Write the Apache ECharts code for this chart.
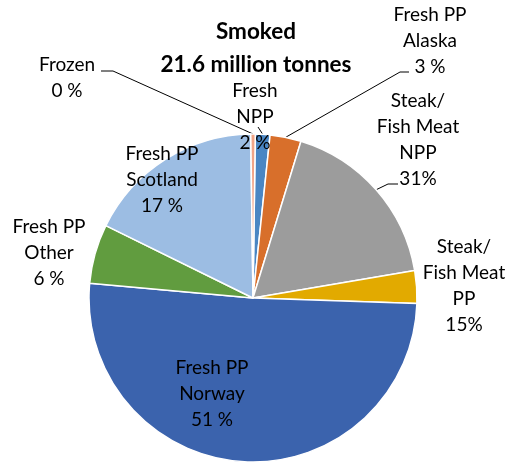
<!DOCTYPE html>
<html>
<head>
<meta charset="utf-8">
<script src="https://cdn.jsdelivr.net/npm/echarts@6/dist/echarts.min.js"></script>
<style>
  html, body { margin: 0; padding: 0; background: #fff; }
  #pie-smoked { width: 513px; height: 463px; }
</style>
</head>
<body>
<div id="pie-smoked"></div>
<script>
// 数据：按顺时针从12点方向开始
var categories = ['Fresh\nNPP', 'Fresh PP\nAlaska', 'Steak/\nFish Meat\nNPP', 'Steak/\nFish Meat\nPP',
	'Fresh PP\nNorway', 'Fresh PP\nOther', 'Fresh PP\nScotland', 'Frozen'];
var shares = [1.44, 3.06, 17.6, 3.2, 50.9, 5.83, 17.5, 0.44]; // 扇区大小（从图上量出）
var pctLabels = ['2 %', '3 %', '31%', '15%', '51 %', '6 %', '17 %', '0 %']; // 图上标注的百分比文字
var colors = ['#4a86c3', '#d86f2b', '#9c9c9c', '#e2aa00', '#3b63ad', '#619c3f', '#9cbde3', '#f1a587'];

// 标签位置（中心点）和引导线
var labelPos = [[255, 117], [430, 41], [418, 140], [464, 286], [212, 394], [49, 253], [162, 180], [67, 78]];
var leaderEnd = {
	0: [[258, 127]],
	1: [[400, 72], [409, 72]],
	2: [[388, 184], [398, 184]],
	7: [[113, 71], [101, 71]]
};

var pieChart = echarts.init(document.getElementById('pie-smoked'));

var pieData = categories.map(function (name, i) {
	return {
		name: name,
		value: shares[i],
		itemStyle: { color: colors[i] },
		labelLine: { show: !!leaderEnd[i] }
	};
});

var option = {
	animation: false,
	title: {
		text: 'Smoked\n21.6 million tonnes',
		left: 251,
		textAlign: 'center',
		top: 10,
		textStyle: {
			fontFamily: 'Lato',
			fontWeight: 'bold',
			fontSize: 22.5,
			lineHeight: 33,
			color: '#000'
		}
	},
	series: [{
		type: 'pie',
		center: [253, 298],
		radius: 164,
		startAngle: 89.2,
		avoidLabelOverlap: false,
		itemStyle: {
			borderColor: '#fff',
			borderWidth: 1.5
		},
		label: {
			show: true,
			position: 'outside',
			formatter: function (p) {
				return p.name + '\n' + pctLabels[p.dataIndex];
			},
			fontFamily: 'Lato',
			fontSize: 19,
			lineHeight: 26,
			color: '#000',
			align: 'center'
		},
		labelLine: {
			lineStyle: { color: '#000', width: 1 }
		},
		labelLayout: function (params) {
			var i = params.dataIndex;
			var res = {
				x: labelPos[i][0],
				y: labelPos[i][1],
				align: 'center',
				verticalAlign: 'middle'
			};
			if (leaderEnd[i] && params.labelLinePoints) {
				res.labelLinePoints = [params.labelLinePoints[0]].concat(leaderEnd[i]);
			}
			return res;
		},
		data: pieData
	}]
};

pieChart.setOption(option);
window.onresize = pieChart.resize;
</script>
</body>
</html>
